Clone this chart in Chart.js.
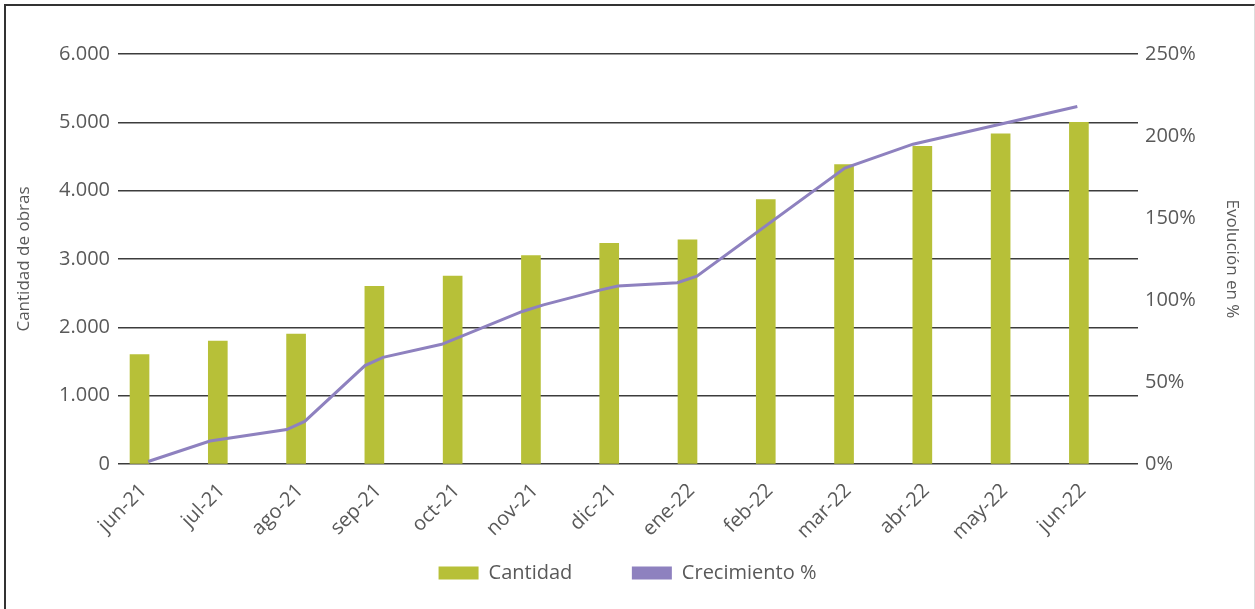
<!DOCTYPE html>
<html lang="es">
<head>
<meta charset="utf-8">
<title>Cantidad de obras</title>
<script src="https://cdn.jsdelivr.net/npm/chart.js@4.4.1/dist/chart.umd.min.js"></script>
<style>
    html, body { margin: 0; padding: 0; background: #fff; overflow: hidden; }
    .wrap { position: relative; width: 1255px; height: 609px; }
    .frame {
        position: absolute; left: 4px; top: 4px; width: 1248px; height: 640px;
        border-left: 2px solid #333; border-top: 2px solid #333; border-right: 1px solid #ddd;
        pointer-events: none;
    }
</style>
</head>
<body>
<div class="wrap">
    <canvas id="obrasChart"></canvas>
    <div class="frame"></div>
</div>
<script>
const meses = ['jun-21', 'jul-21', 'ago-21', 'sep-21', 'oct-21', 'nov-21', 'dic-21',
               'ene-22', 'feb-22', 'mar-22', 'abr-22', 'may-22', 'jun-22'];
const cantidad = [1600, 1800, 1900, 2600, 2750, 3050, 3230, 3280, 3870, 4380, 4650, 4830, 5000];

// la línea no cae en el centro de cada mes: posición en meses (0 = jun-21)
const crecimientoMes = [0.11, 0.90, 1.88, 2.11, 2.88, 3.11, 3.86, 4.89, 5.16,
                        5.88, 6.11, 6.87, 7.12, 9.01, 9.88, 11.98];
const crecimiento = [1.5, 14, 21, 26, 60, 65, 73, 93, 97, 106, 108.5, 110.5, 114.5, 180.5, 195, 218];

const cantidadTicks = { min: 0, max: 6000, step: 1000 };
const evolucionTicks = { min: 0, max: 250, step: 50 };

const FONT = "'Open Sans', 'Noto Sans', sans-serif";
const GRIS = '#595959';
const VERDE = '#b7c038';
const VIOLETA = '#8e81bf';

function miles(v) {
    return String(v).replace(/\B(?=(\d{3})+(?!\d))/g, '.');
}

document.addEventListener('DOMContentLoaded', () => {
    const ctx = document.getElementById('obrasChart').getContext('2d');

    new Chart(ctx, {
        type: 'bar',
        data: {
            datasets: [
                {
                    label: 'Cantidad',
                    data: cantidad.map((v, i) => ({ x: i, y: v })),
                    backgroundColor: VERDE,
                    yAxisID: 'y',
                    grouped: false,
                    barThickness: 19,
                    order: 1
                },
                {
                    type: 'line',
                    label: 'Crecimiento %',
                    data: crecimientoMes.map((m, i) => ({ x: m, y: crecimiento[i] })),
                    yAxisID: 'y1',
                    borderColor: VIOLETA,
                    backgroundColor: VIOLETA,
                    borderWidth: 3,
                    pointRadius: 0,
                    tension: 0,
                    order: 0
                }
            ]
        },
        options: {
            responsive: true,
            maintainAspectRatio: false,
            animation: false,
            layout: {
                padding: { left: 8, right: 8, top: 54, bottom: 16 }
            },
            scales: {
                x: {
                    type: 'linear',
                    offset: false,
                    // las barras quedan corridas a la izquierda de cada mes, como en el original
                    min: -0.275,
                    max: 12.755,
                    grid: { display: false },
                    border: { display: false },
                    ticks: {
                        stepSize: 1,
                        maxTicksLimit: 20,
                        includeBounds: false,
                        autoSkip: false,
                        minRotation: 45,
                        maxRotation: 45,
                        labelOffset: 4,
                        padding: 7,
                        color: GRIS,
                        font: { size: 20, family: FONT },
                        callback: (v) => meses[v] ?? ''
                    },
                    afterFit: (s) => { s.height = 81; }
                },
                y: {
                    position: 'left',
                    min: cantidadTicks.min,
                    max: cantidadTicks.max,
                    border: { display: false },
                    grid: {
                        color: '#3c3c3c',
                        lineWidth: 1.4,
                        drawTicks: false
                    },
                    ticks: {
                        stepSize: cantidadTicks.step,
                        padding: 8,
                        color: GRIS,
                        font: { size: 20, family: FONT },
                        callback: (v) => miles(v)
                    },
                    title: {
                        display: true,
                        text: 'Cantidad de obras',
                        color: GRIS,
                        padding: { top: 6, bottom: 0 },
                        font: { size: 17, family: FONT }
                    },
                    afterFit: (s) => { s.width = 110; }
                },
                y1: {
                    position: 'right',
                    min: evolucionTicks.min,
                    max: evolucionTicks.max,
                    border: { display: false },
                    grid: { drawOnChartArea: false, drawTicks: false },
                    ticks: {
                        stepSize: evolucionTicks.step,
                        padding: 7,
                        color: GRIS,
                        font: { size: 20, family: FONT },
                        callback: (v) => v + '%'
                    },
                    title: {
                        display: true,
                        text: 'Evolución en %',
                        color: GRIS,
                        padding: { top: 5, bottom: 0 },
                        font: { size: 17, family: FONT }
                    },
                    afterFit: (s) => { s.width = 109; }
                }
            },
            plugins: {
                legend: {
                    position: 'bottom',
                    labels: {
                        boxWidth: 40,
                        boxHeight: 13,
                        padding: 18,
                        color: GRIS,
                        font: { size: 20, family: FONT },
                        sort: (a, b) => a.datasetIndex - b.datasetIndex,
                        generateLabels: (chart) =>
                            Chart.defaults.plugins.legend.labels.generateLabels(chart)
                                .map(l => ({
                                    ...l,
                                    lineWidth: 0,
                                    // separación entre las dos entradas de la leyenda
                                    text: l.datasetIndex === 0 ? l.text + '        ' : l.text
                                }))
                    }
                },
                tooltip: { enabled: false }
            }
        }
    });
});
</script>
</body>
</html>
